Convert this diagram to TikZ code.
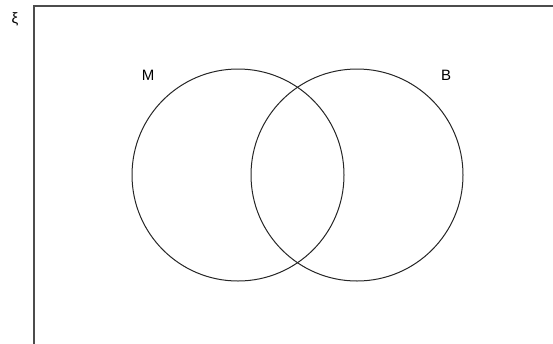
\documentclass[tikz,border=0pt]{standalone}
\usepackage{fontspec}
\setmainfont{Liberation Sans}
\begin{document}
\begin{tikzpicture}[x=1pt,y=-1pt,
  setcircle/.style={draw=black!85,line width=1pt},
  lbl/.style={font=\fontsize{15}{17}\selectfont,inner sep=0pt}]
\useasboundingbox (0,0) rectangle (553,343);
\begin{scope}
\clip (0,0) rectangle (553,343);
\draw[draw=black!70,line width=1.6pt] (34,6) rectangle (600,400);
\end{scope}
\node[lbl] (xi) at (15,19) {ξ};
\node[setcircle,circle,minimum size=212pt,inner sep=0pt] (M) at (238,175) {};
\node[setcircle,circle,minimum size=212pt,inner sep=0pt] (B) at (357,175) {};
\node[lbl] (ml) at (148,75) {M};
\node[lbl] (bl) at (446,75) {B};
\end{tikzpicture}
\end{document}
